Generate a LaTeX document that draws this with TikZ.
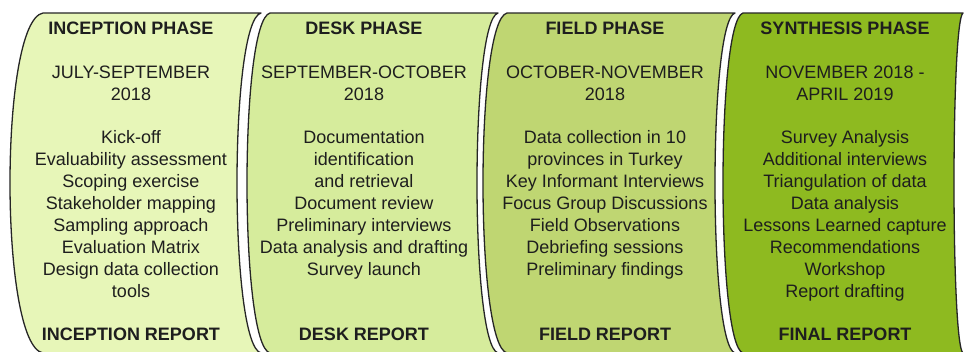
\documentclass[tikz,border=0pt]{standalone}
\usepackage{fontspec}
\setmainfont{Liberation Sans}
\definecolor{inkA}{HTML}{1E1E1E}
\definecolor{edgeA}{HTML}{262626}
\definecolor{phaseA}{HTML}{E7F6B8}
\definecolor{phaseB}{HTML}{D6EC9C}
\definecolor{phaseC}{HTML}{BFD672}
\definecolor{phaseD}{HTML}{8EBA20}
% #1 fill, #2 top-left x, #3 left bulge x, #4 top-right x, #5 right bulge x
\newcommand\phasepanel[5]{%
  \path[panelshape, fill=#1]
    (#2,13) -- (#4,13)
    .. controls ({#4-4/3*(#4-#5)},21) and ({#4-4/3*(#4-#5)},345) .. (#4,353)
    -- (#2,353)
    .. controls ({#2-4/3*(#2-#3)},345) and ({#2-4/3*(#2-#3)},21) .. cycle;}
\tikzset{
  panelshape/.style={draw=edgeA, line width=1.3pt, line join=round},
  phasetext/.style={font=\fontsize{18}{22}\selectfont, text=inkA, anchor=north,
    inner sep=0pt, align=center},
  phasehead/.style={phasetext, font=\fontsize{18}{22}\selectfont\bfseries},
}
\begin{document}
\begin{tikzpicture}[x=1pt,y=-1pt]
  \useasboundingbox (0,0) rectangle (964,351);
  \clip (0,0) rectangle (964,351);
  \fill[white] (0,0) rectangle (964,351);

  \phasepanel{phaseA}{43}{10}{261}{237}
  \phasepanel{phaseB}{270}{247}{498}{477}
  \phasepanel{phaseC}{507}{483}{735}{715}
  \phasepanel{phaseD}{743}{723}{963}{954}

  % inception
  \node[phasehead] (incH) at (131,19) {\strut INCEPTION PHASE};
  \node[phasetext] (incD) at (131,63) {\strut JULY-SEPTEMBER\\2018};
  \node[phasetext] (incI) at (131,128) {\strut Kick-off\\Evaluability assessment\\Scoping exercise\\Stakeholder mapping\\Sampling approach\\Evaluation Matrix\\Design data collection\\tools};
  \node[phasehead] (incR) at (131,325) {\strut INCEPTION REPORT};

  % desk
  \node[phasehead] (dskH) at (364,19) {\strut DESK PHASE};
  \node[phasetext] (dskD) at (364,63) {\strut SEPTEMBER-OCTOBER\\2018};
  \node[phasetext] (dskI) at (364,128) {\strut Documentation\\identification\\and retrieval\\Document review\\Preliminary interviews\\Data analysis and drafting\\Survey launch};
  \node[phasehead] (dskR) at (364,325) {\strut DESK REPORT};

  % field
  \node[phasehead] (fldH) at (605,19) {\strut FIELD PHASE};
  \node[phasetext] (fldD) at (605,63) {\strut OCTOBER-NOVEMBER\\2018};
  \node[phasetext] (fldI) at (605,128) {\strut Data collection in 10\\provinces in Turkey\\Key Informant Interviews\\Focus Group Discussions\\Field Observations\\Debriefing sessions\\Preliminary findings};
  \node[phasehead] (fldR) at (605,325) {\strut FIELD REPORT};

  % synthesis
  \node[phasehead] (synH) at (845,19) {\strut SYNTHESIS PHASE};
  \node[phasetext] (synD) at (845,63) {\strut NOVEMBER 2018 -\\APRIL 2019};
  \node[phasetext] (synI) at (845,128) {\strut Survey Analysis\\Additional interviews\\Triangulation of data\\Data analysis\\Lessons Learned capture\\Recommendations\\Workshop\\Report drafting};
  \node[phasehead] (synR) at (845,325) {\strut FINAL REPORT};
\end{tikzpicture}
\end{document}
